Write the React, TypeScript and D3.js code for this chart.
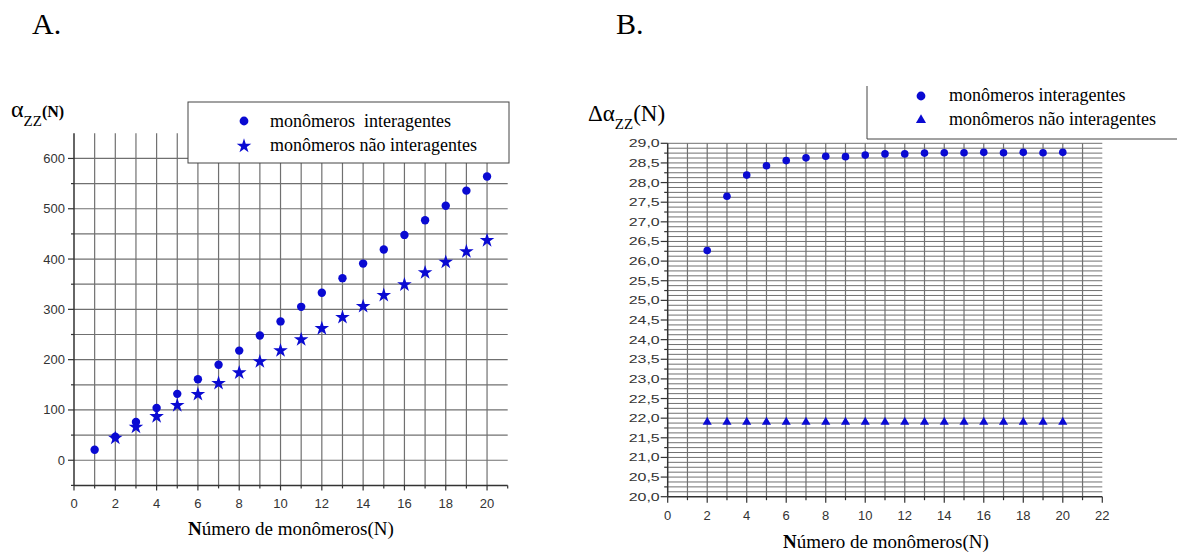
import React from "react";
import * as d3 from "d3";

// panel A: alpha_zz(N)
const nA = [1, 2, 3, 4, 5, 6, 7, 8, 9, 10, 11, 12, 13, 14, 15, 16, 17, 18, 19, 20];
const interA = [21, 47, 76, 104, 132, 161, 190, 218, 248, 276, 305, 333, 362, 391, 419, 448, 477, 506, 536, 564];
const nA2 = [2, 3, 4, 5, 6, 7, 8, 9, 10, 11, 12, 13, 14, 15, 16, 17, 18, 19, 20];
const naoA = [44, 66, 87, 109, 131, 153, 174, 196, 218, 240, 262, 284, 306, 328, 349, 373, 394, 415, 437];
const xTicksA = [0, 2, 4, 6, 8, 10, 12, 14, 16, 18, 20];
const yTicksA = [0, 100, 200, 300, 400, 500, 600];

// panel B: delta alpha_zz(N)
const nB = [2, 3, 4, 5, 6, 7, 8, 9, 10, 11, 12, 13, 14, 15, 16, 17, 18, 19, 20];
const interB = [26.27, 27.65, 28.19, 28.43, 28.56, 28.63, 28.67, 28.66, 28.7, 28.73, 28.73, 28.75, 28.76, 28.76, 28.77, 28.76, 28.77, 28.76, 28.77];
const naoB = [21.9, 21.9, 21.9, 21.9, 21.9, 21.9, 21.9, 21.9, 21.9, 21.9, 21.9, 21.9, 21.9, 21.9, 21.9, 21.9, 21.9, 21.9, 21.9];
const xTicksB = [0, 2, 4, 6, 8, 10, 12, 14, 16, 18, 20, 22];
const yTicksB = [20, 20.5, 21, 21.5, 22, 22.5, 23, 23.5, 24, 24.5, 25, 25.5, 26, 26.5, 27, 27.5, 28, 28.5, 29];

const BLUE = "#0a0ad2";
const GRID = "#707070";
const AXIS = "#333";
const SANS = "'Liberation Sans', Arial, sans-serif";
const SERIF = "'Liberation Serif', 'Times New Roman', serif";

const star = d3.symbol(d3.symbolStar, 66)() as string;
const starLg = d3.symbol(d3.symbolStar, 66)() as string;
const tri = d3.symbol(d3.symbolTriangle, 36)() as string;
const triLg = d3.symbol(d3.symbolTriangle, 44)() as string;

function PanelA() {
  const x = d3.scaleLinear().domain([0, 21]).range([74, 507.7]);
  const y = d3.scaleLinear().domain([-50, 650]).range([485.4, 133.3]);
  const [y0, y1] = y.range();
  const vGrid = d3.range(1, 21);
  const hGrid = d3.range(-50, 650, 50).filter(v => v !== -50);
  const xMinor = d3.range(1, 22, 2);
  return (
    <g>
      <text x={32} y={34} fontFamily={SERIF} fontSize={30}>A.</text>
      {vGrid.map(v => (
        <line key={"v" + v} x1={x(v)} x2={x(v)} y1={y0} y2={y1} stroke={GRID} strokeWidth={1.2} />
      ))}
      {hGrid.map(v => (
        <line key={"h" + v} x1={x(0)} x2={x(21)} y1={y(v)} y2={y(v)} stroke={GRID} strokeWidth={1.2} />
      ))}
      {/* axes */}
      <line x1={x(0)} x2={x(0)} y1={y0} y2={y1} stroke={AXIS} strokeWidth={1.5} />
      <line x1={x(0)} x2={x(21)} y1={y0} y2={y0} stroke={AXIS} strokeWidth={1.5} />
      {yTicksA.map(v => (
        <g key={"yt" + v}>
          <line x1={x(0) - 6} x2={x(0)} y1={y(v)} y2={y(v)} stroke={AXIS} strokeWidth={1.2} />
          <text x={x(0) - 9} y={y(v) + 4.5} textAnchor="end" fontFamily={SANS} fontSize={13} fill={AXIS}>{v}</text>
        </g>
      ))}
      {hGrid.filter(v => v % 100 !== 0).concat([-50]).map(v => (
        <line key={"ym" + v} x1={x(0) - 3} x2={x(0)} y1={y(v)} y2={y(v)} stroke={AXIS} strokeWidth={1.2} />
      ))}
      {xTicksA.map(v => (
        <g key={"xt" + v}>
          <line x1={x(v)} x2={x(v)} y1={y0} y2={y0 + 5} stroke={AXIS} strokeWidth={1.2} />
          <text x={x(v)} y={y0 + 23} textAnchor="middle" fontFamily={SANS} fontSize={13} fill={AXIS}>{v}</text>
        </g>
      ))}
      {xMinor.map(v => (
        <line key={"xm" + v} x1={x(v)} x2={x(v)} y1={y0} y2={y0 + 3} stroke={AXIS} strokeWidth={1.2} />
      ))}
      {/* markers */}
      {nA.map((n, i) => (
        <circle key={"c" + n} cx={x(n)} cy={y(interA[i])} r={4.2} fill={BLUE} />
      ))}
      {nA2.map((n, i) => (
        <path key={"s" + n} d={star} transform={`translate(${x(n)},${y(naoA[i])})`} fill={BLUE} />
      ))}
      {/* legend */}
      <rect x={188} y={102} width={321} height={61} fill="#fff" stroke="#444" strokeWidth={1} />
      <circle cx={244} cy={121} r={4.4} fill={BLUE} />
      <path d={starLg} transform="translate(244,146)" fill={BLUE} />
      <text x={270} y={127} fontFamily={SERIF} fontSize={18} style={{ whiteSpace: "pre" }}>monômeros  interagentes</text>
      <text x={270} y={151} fontFamily={SERIF} fontSize={18}>monômeros não interagentes</text>
      {/* titles */}
      <text x={11} y={117} fontFamily={SERIF}>
        <tspan fontSize={24}>α</tspan>
        <tspan fontSize={15} dy={9}>ZZ</tspan>
        <tspan fontSize={16} fontWeight="bold" dy={-9}>(N)</tspan>
      </text>
      <text x={291} y={535} textAnchor="middle" fontFamily={SERIF} fontSize={19}>
        <tspan fontWeight="bold">N</tspan>úmero de monômeros(N)
      </text>
    </g>
  );
}

function PanelB() {
  const x = d3.scaleLinear().domain([0, 22]).range([667.7, 1102.3]);
  const y = d3.scaleLinear().domain([20, 29]).range([496.7, 143.3]);
  const [y0, y1] = y.range();
  const vGrid = d3.range(1, 22);
  const hGrid = d3.range(20.125, 29.01, 0.125);
  const yMinor = d3.range(20.25, 29, 0.5);
  const xMinor = d3.range(1, 22, 2);
  return (
    <g>
      <text x={616} y={34} fontFamily={SERIF} fontSize={30}>B.</text>
      {vGrid.map(v => (
        <line key={"v" + v} x1={x(v)} x2={x(v)} y1={y0} y2={y1} stroke={GRID} strokeWidth={1.2} />
      ))}
      {hGrid.map(v => (
        <line key={"h" + v} x1={x(0)} x2={x(22)} y1={y(v)} y2={y(v)} stroke={GRID} strokeWidth={1} />
      ))}
      <line x1={x(0)} x2={x(0)} y1={y0} y2={y1} stroke={AXIS} strokeWidth={1.5} />
      <line x1={x(0)} x2={x(22)} y1={y0} y2={y0} stroke={AXIS} strokeWidth={1.5} />
      {yTicksB.map(v => (
        <g key={"yt" + v}>
          <line x1={x(0) - 7} x2={x(0)} y1={y(v)} y2={y(v)} stroke={AXIS} strokeWidth={1.2} />
          <text x={x(0) - 8} y={y(v) + 4} textAnchor="end" fontFamily={SANS} fontSize={11.5} fill={AXIS}
            textLength={31} lengthAdjust="spacingAndGlyphs">{v.toFixed(1).replace(".", ",")}</text>
        </g>
      ))}
      {yMinor.map(v => (
        <line key={"ym" + v} x1={x(0) - 3.5} x2={x(0)} y1={y(v)} y2={y(v)} stroke={AXIS} strokeWidth={1.2} />
      ))}
      {xTicksB.map(v => (
        <g key={"xt" + v}>
          <line x1={x(v)} x2={x(v)} y1={y0} y2={y0 + 6} stroke={AXIS} strokeWidth={1.2} />
          <text x={x(v)} y={y0 + 23} textAnchor="middle" fontFamily={SANS} fontSize={13} fill={AXIS}>{v}</text>
        </g>
      ))}
      {xMinor.map(v => (
        <line key={"xm" + v} x1={x(v)} x2={x(v)} y1={y0} y2={y0 + 3.5} stroke={AXIS} strokeWidth={1.2} />
      ))}
      {nB.map((n, i) => (
        <circle key={"c" + n} cx={x(n)} cy={y(interB[i])} r={3.8} fill={BLUE} />
      ))}
      {nB.map((n, i) => (
        <path key={"t" + n} d={tri} transform={`translate(${x(n)},${y(naoB[i])})`} fill={BLUE} />
      ))}
      {/* legend (top border cut off in the source) */}
      <line x1={867} x2={867} y1={86} y2={139} stroke="#444" strokeWidth={1} />
      <line x1={867} x2={1177} y1={139} y2={139} stroke="#444" strokeWidth={1} />
      <circle cx={921} cy={96} r={4.4} fill={BLUE} />
      <path d={triLg} transform="translate(921,120)" fill={BLUE} />
      <text x={949} y={101} fontFamily={SERIF} fontSize={18}>monômeros interagentes</text>
      <text x={949} y={125} fontFamily={SERIF} fontSize={18}>monômeros não interagentes</text>
      <text x={588} y={121} fontFamily={SERIF}>
        <tspan fontSize={23}>Δα</tspan>
        <tspan fontSize={15} dy={8}>ZZ</tspan>
        <tspan fontSize={23} dy={-8}>(N)</tspan>
      </text>
      <text x={886} y={548} textAnchor="middle" fontFamily={SERIF} fontSize={19}>
        <tspan fontWeight="bold">N</tspan>úmero de monômeros(N)
      </text>
    </g>
  );
}

export default function App() {
  return (
    <svg width={1177} height={554} viewBox="0 0 1177 554"
      style={{ position: "absolute", left: 0, top: 0, background: "#fff" }}>
      <rect width={1177} height={554} fill="#fff" />
      <PanelA />
      <PanelB />
    </svg>
  );
}
